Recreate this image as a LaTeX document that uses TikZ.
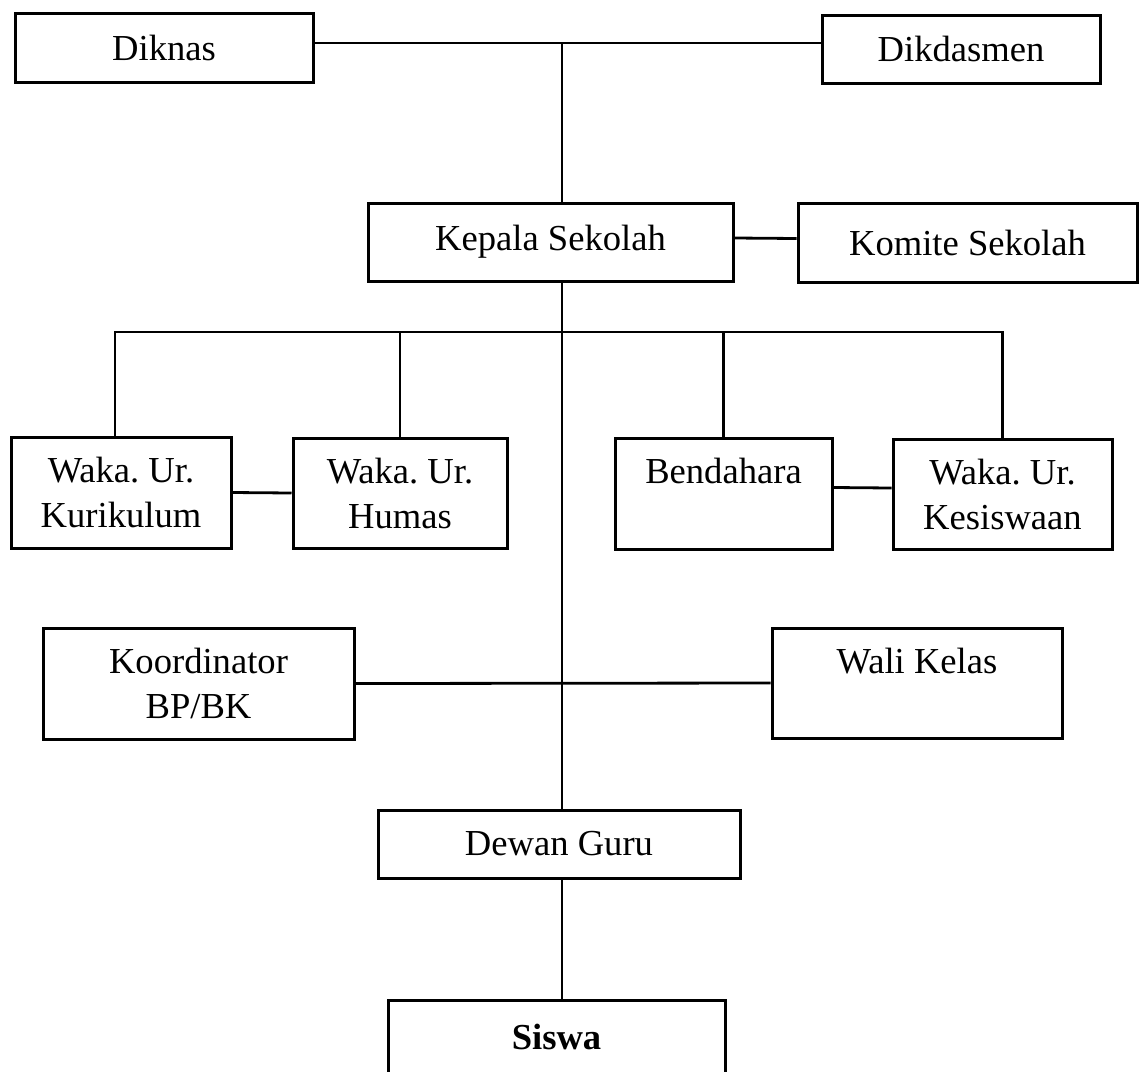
\documentclass[tikz,border=0pt]{standalone}
\usepackage{fontspec}
\setmainfont{Liberation Serif}
\frenchspacing
\tikzset{
  kotak/.style={draw, line width=1.5pt, inner sep=0pt, align=center,
    font=\fontsize{18.3}{22.5}\selectfont},
  garis/.style={line width=1.4pt}
}
\begin{document}
\begin{tikzpicture}[x=0.5pt, y=-0.5pt]
 \useasboundingbox (0,0) rectangle (1139,1071);
 \clip (0,0) rectangle (1139,1071);
 \node[kotak, minimum width=149pt, minimum height=34.5pt] (diknas)      at (164,47.5)   {Diknas};
 \node[kotak, minimum width=139pt, minimum height=34pt]   (dikdasmen)   at (961,49)     {Dikdasmen};
 \node[kotak, minimum width=182.5pt, minimum height=39pt] (kepala)      at (550.5,242)  {Kepala Sekolah};
 \node[kotak, minimum width=169.5pt, minimum height=39.5pt] (komite)    at (967.5,242.5) {Komite Sekolah};
 \node[kotak, minimum width=110pt, minimum height=55.5pt] (kurikulum)   at (121,492.5)  {Waka. Ur.\\Kurikulum};
 \node[kotak, minimum width=107pt, minimum height=55pt]   (humas)       at (400,493)    {Waka. Ur.\\Humas};
 \node[kotak, minimum width=108.5pt, minimum height=55.5pt] (bendahara) at (723.5,493.5) {Bendahara\\~};
 \node[kotak, minimum width=109.5pt, minimum height=55pt] (kesiswaan)   at (1002.5,494) {Waka. Ur.\\Kesiswaan};
 \node[kotak, minimum width=155.5pt, minimum height=55.5pt] (koordinator) at (198.5,683.5) {Koordinator\\BP/BK};
 \node[kotak, minimum width=145pt, minimum height=55pt]   (walikelas)   at (917,683)    {Wali Kelas\\~};
 \node[kotak, minimum width=181pt, minimum height=34pt]   (dewan)       at (559,844)    {Dewan Guru};
 \node[kotak, minimum width=168.5pt, minimum height=37pt] (siswa)       at (556.5,1037) {\bfseries Siswa};
 \coordinate (puncak) at (562,43);
 \coordinate (bus) at (562,332);
 \draw[garis] (diknas.east |- puncak) -- (dikdasmen.west |- puncak);
 \draw[garis] (puncak) -- (kepala.north -| puncak);
 \draw[garis] ([yshift=2pt]kepala.east) -- ([yshift=2pt]komite.west);
 \draw[garis] (kepala.south -| bus) -- (dewan.north -| bus);
 \draw[garis] ([xshift=-3pt]kurikulum.north) -- ([xshift=-3pt]kurikulum.north |- bus) -- (kesiswaan.north |- bus) -- (kesiswaan.north);
 \foreach \n in {humas, bendahara}
  \draw[garis] (\n.north) -- (\n.north |- bus);
 \draw[garis] (kurikulum.east) -- (humas.west);
 \draw[garis] ([yshift=3pt]bendahara.east) -- ([yshift=3pt]kesiswaan.west);
 \draw[garis] (koordinator.east) -- (walikelas.west);
 \draw[garis] (dewan.south -| bus) -- (siswa.north -| bus);
\end{tikzpicture}
\end{document}
